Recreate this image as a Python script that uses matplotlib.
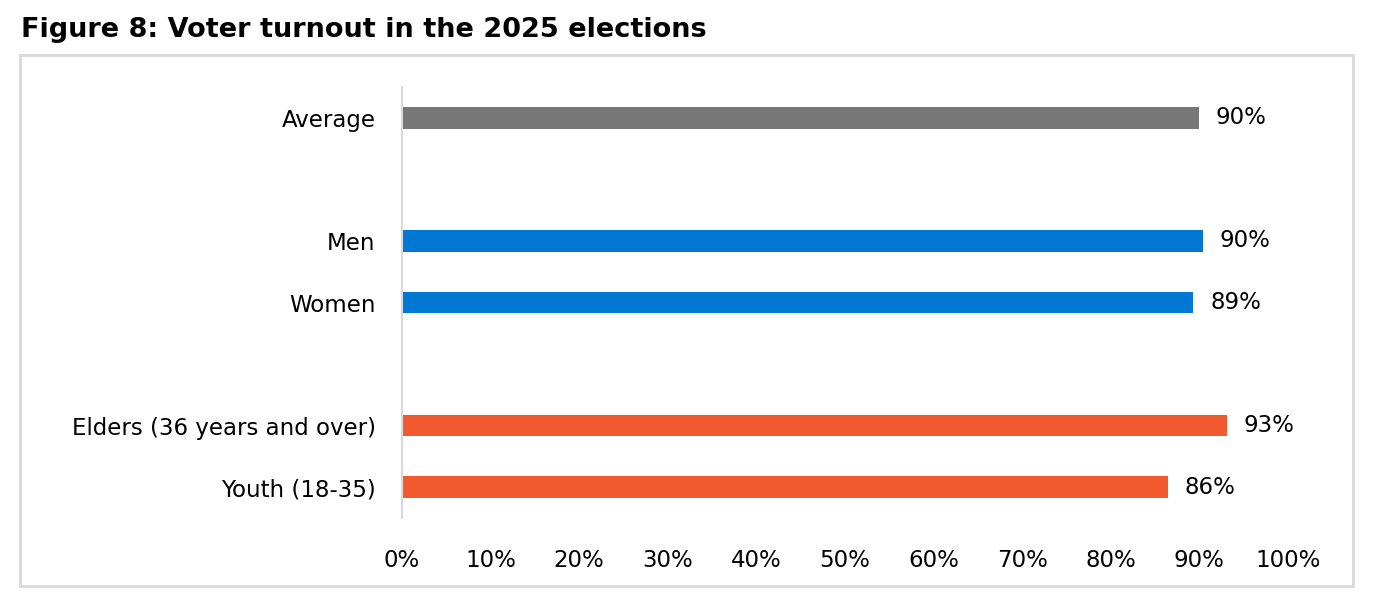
import matplotlib
matplotlib.use("Agg")
import matplotlib.pyplot as plt
from matplotlib.patches import Rectangle

categories = ["Average", "", "Men", "Women", "", "Elders (36 years and over)", "Youth (18-35)"]
values = [89.9, None, 90.4, 89.3, None, 93.1, 86.4]
labels = ["90%", "", "90%", "89%", "", "93%", "86%"]
colors = ["#777777", None, "#0078D4", "#0078D4", None, "#F05A2E", "#F05A2E"]
xticks = [0, 10, 20, 30, 40, 50, 60, 70, 80, 90, 100]
title = "Figure 8: Voter turnout in the 2025 elections"

plt.rcParams['font.family'] = ['DejaVu Sans']

W, H = 1388, 608
fig = plt.figure(figsize=(W/100, H/100), dpi=100)
fig.patch.set_facecolor("white")

# frame
fig.patches.append(Rectangle((20/W, 1-586/H), (1353-20)/W, (586-55)/H,
                             transform=fig.transFigure, fill=False,
                             edgecolor="#D9D9D9", lw=2))
fig.text(21/W, 1-30/H, title, fontsize=19.5, fontweight="bold", va="center", ha="left")

ax = fig.add_axes([402/W, 1-518/H, (1288-402)/W, (518-87)/H])
for i, (v, c) in enumerate(zip(values, colors)):
    if v is None:
        continue
    ax.barh(i, v, height=0.35, color=c)
    ax.text(v + 1.9, i, labels[i], va="center", ha="left", fontsize=16.5)

ax.set_ylim(6.5, -0.5)
ax.set_xlim(0, 100)
ax.set_yticks(range(len(categories)))
ax.set_yticklabels(categories, fontsize=16.5)
ax.set_xticks(xticks)
ax.set_xticklabels([f"{t}%" for t in xticks], fontsize=16.5)
ax.tick_params(axis="both", length=0)
ax.tick_params(axis="y", pad=19)
ax.tick_params(axis="x", pad=22)
for s in ["top", "right", "bottom"]:
    ax.spines[s].set_visible(False)
ax.spines["left"].set_color("#D9D9D9")
ax.spines["left"].set_linewidth(1.5)

fig.savefig("out.png", dpi=100)
